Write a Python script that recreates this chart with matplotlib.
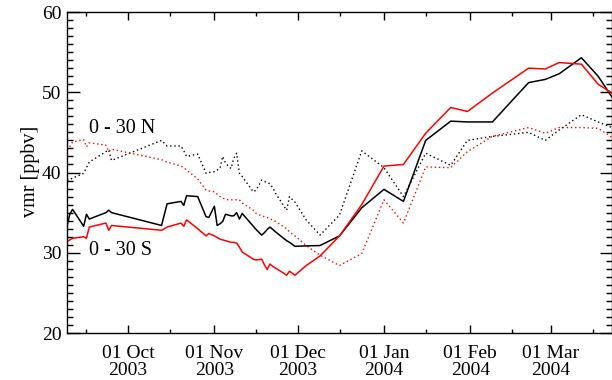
import pandas as pd
import matplotlib
matplotlib.use('Agg')
import matplotlib.pyplot as plt
import matplotlib.dates as mdates

# sampling dates shared by all four series
dates = ['2003-09-09', '2003-09-10', '2003-09-11', '2003-09-15', '2003-09-16',
         '2003-09-17', '2003-09-23', '2003-09-24', '2003-09-25', '2003-10-13',
         '2003-10-15', '2003-10-20', '2003-10-21', '2003-10-22', '2003-10-26',
         '2003-10-29', '2003-10-30', '2003-11-01', '2003-11-02', '2003-11-03',
         '2003-11-04', '2003-11-05', '2003-11-06', '2003-11-07', '2003-11-08',
         '2003-11-09', '2003-11-10', '2003-11-11', '2003-11-15', '2003-11-16',
         '2003-11-18', '2003-11-19', '2003-11-20', '2003-11-21', '2003-11-22',
         '2003-11-23', '2003-11-27', '2003-11-28', '2003-11-30', '2003-12-04',
         '2003-12-09', '2003-12-16', '2003-12-24', '2004-01-01', '2004-01-08',
         '2004-01-16', '2004-01-25', '2004-01-31', '2004-02-09', '2004-02-22',
         '2004-02-28', '2004-03-04', '2004-03-12', '2004-03-18', '2004-03-23']

# 0 - 30 S (solid)
south_black = [33.3, 34.8, 35.4, 33.3, 34.8, 34.2, 35.0, 35.3, 35.0, 33.4,
               36.1, 36.4, 35.9, 37.1, 37.0, 34.5, 34.4, 35.8, 33.4, 33.6,
               33.9, 34.8, 34.7, 34.6, 34.6, 35.0, 34.2, 34.9, 33.3, 32.9,
               32.2, 32.5, 32.9, 33.2, 32.9, 32.6, 31.5, 31.3, 30.8, 30.85,
               30.9, 32.1, 35.6, 37.9, 36.4, 44.0, 46.4, 46.3, 46.3, 51.2,
               51.6, 52.3, 54.3, 52.0, 49.4]
south_red = [31.4, 31.6, 31.8, 32.0, 31.8, 33.2, 33.7, 32.8, 33.4, 32.8,
             33.2, 33.7, 33.3, 34.1, 33.0, 32.1, 32.4, 32.1, 31.9, 31.7,
             31.6, 31.5, 31.4, 31.3, 31.3, 31.2, 30.7, 30.1, 29.2, 29.1,
             29.2, 28.5, 27.9, 28.6, 28.3, 28.1, 27.2, 27.7, 27.2, 28.4,
             29.6, 32.1, 36.0, 40.8, 41.0, 44.9, 48.1, 47.6, 49.9, 53.0,
             52.9, 53.7, 53.5, 51.0, 49.9]

# 0 - 30 N (dotted)
north_black = [39.05, 39.1, 39.3, 39.9, 40.6, 41.3, 42.6, 42.8, 41.5, 44.0,
               43.3, 43.3, 42.7, 42.0, 42.3, 39.9, 40.0, 40.1, 40.3, 40.5,
               42.0, 41.2, 40.8, 40.5, 41.8, 42.4, 39.9, 39.5, 37.6, 37.8,
               39.05, 38.9, 38.7, 38.6, 38.1, 37.4, 35.3, 37.0, 36.3, 34.1,
               32.2, 34.7, 42.7, 40.6, 37.0, 42.4, 40.9, 44.0, 44.5, 45.0,
               44.0, 45.3, 47.2, 46.3, 45.6]
north_red = [42.8, 43.2, 43.8, 44.1, 43.2, 43.7, 43.4, 42.6, 42.9, 41.6,
             41.3, 40.8, 40.6, 40.3, 39.2, 37.8, 37.7, 37.6, 37.3, 37.0,
             36.8, 36.7, 36.6, 36.6, 36.6, 36.6, 36.6, 36.2, 35.3, 34.9,
             34.6, 34.5, 34.4, 34.2, 34.1, 33.9, 33.0, 32.6, 32.1, 30.9,
             29.7, 28.4, 29.9, 36.6, 33.7, 40.7, 40.6, 42.6, 44.5, 45.6,
             44.9, 45.6, 45.6, 45.5, 44.4]

t = pd.to_datetime(dates)

plt.rcParams['font.family'] = ['Liberation Serif', 'DejaVu Serif']
plt.rcParams['font.size'] = 14

fig = plt.figure(figsize=(6.12, 3.80), dpi=100)
ax = fig.add_axes([67 / 612, 47 / 380, 545 / 612, 321 / 380])

dot = (0, (1, 2))
ax.plot(t, north_black, color='black', lw=1.0, ls=dot)
ax.plot(t, north_red, color='red', lw=1.0, ls=dot)
ax.plot(t, south_black, color='black', lw=1.1)
ax.plot(t, south_red, color='red', lw=1.1)

ax.text(pd.Timestamp('2003-09-17'), 44.9, '0 - 30 N', ha='left', va='baseline', fontsize=14.5)
ax.text(pd.Timestamp('2003-09-17'), 29.7, '0 - 30 S', ha='left', va='baseline', fontsize=14.5)

ax.set_xlim(pd.Timestamp('2003-09-09'), pd.Timestamp('2004-03-23'))
ax.set_ylim(20, 60)
ax.set_yticks([20, 30, 40, 50, 60])
ax.yaxis.set_minor_locator(matplotlib.ticker.MultipleLocator(1))
ax.xaxis.set_major_locator(mdates.MonthLocator(bymonthday=1))
ax.xaxis.set_minor_locator(mdates.MonthLocator(bymonthday=16))
ax.xaxis.set_major_formatter(mdates.DateFormatter('%d %b\n%Y'))
for lbl in ax.get_xticklabels():
    lbl.set_linespacing(0.95)

ax.tick_params(which='both', direction='in', top=True, right=True, width=1.0)
ax.tick_params(axis='x', which='major', length=6, pad=9)
ax.tick_params(axis='x', which='minor', length=3)
ax.tick_params(axis='y', which='major', length=9, pad=4)
ax.tick_params(axis='y', which='minor', length=4.5)
for s in ax.spines.values():
    s.set_linewidth(1.0)

fig.text(30 / 612, 1 - 171 / 380, 'vmr [ppbv]', rotation=90, ha='center', va='center', fontsize=14.5)

fig.savefig('out.png', dpi=100)
